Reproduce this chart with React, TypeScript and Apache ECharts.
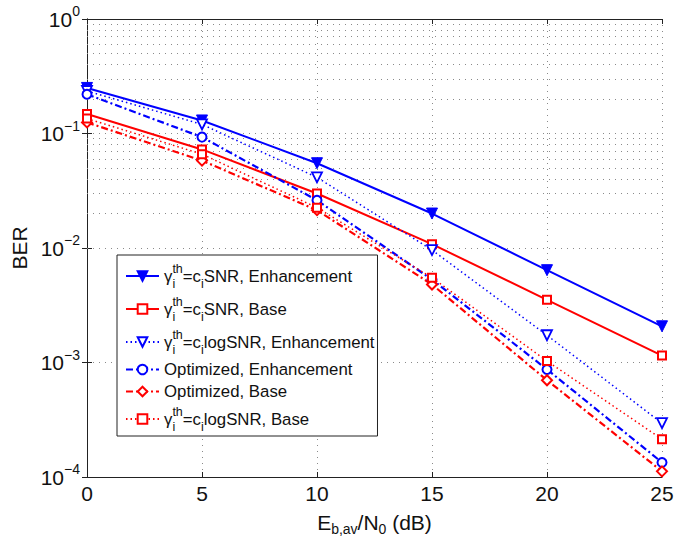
import React, { useEffect, useRef } from "react";
import * as echarts from "echarts";

const xValues = [0, 5, 10, 15, 20, 25];
const snrEnh = [0.25, 0.13, 0.055, 0.02, 0.0064, 0.00207];
const snrBase = [0.148, 0.0726, 0.0299, 0.0108, 0.00353, 0.00115];
const logEnh = [0.235, 0.12, 0.0414, 0.0096, 0.00173, 0.000295];
const optEnh = [0.22, 0.093, 0.0261, 0.0053, 0.00087, 0.000134];
const optBase = [0.125, 0.058, 0.0214, 0.0048, 0.0007, 0.000112];
const logBase = [0.135, 0.066, 0.0225, 0.0055, 0.00103, 0.000214];

const seriesNames = [
  "γ_i^th=c_iSNR, Enhancement",
  "γ_i^th=c_iSNR, Base",
  "γ_i^th=c_ilogSNR, Enhancement",
  "Optimized, Enhancement",
  "Optimized, Base",
  "γ_i^th=c_ilogSNR, Base",
];

const legendRich: Record<string, string> = {
  [seriesNames[0]]: "{g|γ}{si|i}{su|th}{t|=c}{sb|i}{t|SNR, Enhancement}",
  [seriesNames[1]]: "{g|γ}{si|i}{su|th}{t|=c}{sb|i}{t|SNR, Base}",
  [seriesNames[2]]: "{g|γ}{si|i}{su|th}{t|=c}{sb|i}{t|logSNR, Enhancement}",
  [seriesNames[3]]: "{p|Optimized, Enhancement}",
  [seriesNames[4]]: "{p|Optimized, Base}",
  [seriesNames[5]]: "{g|γ}{si|i}{su|th}{t|=c}{sb|i}{t|logSNR, Base}",
};

const minorGrid: number[] = [];
for (let e = -4; e < 0; e++) {
  for (let k = 2; k <= 9; k++) minorGrid.push(k * Math.pow(10, e));
}

const FONT = "'Liberation Sans', Arial, Helvetica, sans-serif";
const BLUE = "#0000ff";
const RED = "#ff0000";
const TXT = "#111";
const LF = 16.8;
const GRID_STYLE = { color: "#8a8a8a", width: 1, type: [1, 5] as number[] };

function pairs(vals: number[]) {
  return xValues.map((x, i) => [x, vals[i]]);
}

export default function App() {
  const ref = useRef<HTMLDivElement>(null);
  useEffect(() => {
    if (!ref.current) return;
    const chart = echarts.init(ref.current, undefined, { renderer: "svg" });
    const axisLine = { show: true, lineStyle: { color: "#222", width: 1 } };
    const tick = { show: true, inside: true, length: 5, lineStyle: { color: "#222" } };
    const option: any = {
      animation: false,
      backgroundColor: "#fff",
      textStyle: { fontFamily: FONT },
      grid: { left: 87, right: 30, top: 19, bottom: 65, containLabel: false },
      legend: {
        orient: "vertical",
        left: 117,
        top: 255,
        backgroundColor: "#fff",
        borderColor: "#222",
        borderWidth: 1,
        borderRadius: 0,
        padding: [7, 3, 3, 8],
        itemGap: 5,
        itemWidth: 33,
        itemHeight: 12,
        data: seriesNames,
        formatter: (name: string) => legendRich[name] || name,
        textStyle: {
          fontFamily: FONT,
          color: TXT,
          fontSize: LF,
          rich: {
            g: { fontSize: LF, lineHeight: 28, fontFamily: FONT, color: TXT },
            t: { fontSize: LF, fontFamily: FONT, color: TXT },
            p: { fontSize: LF, lineHeight: 18, fontFamily: FONT, color: TXT },
            su: { fontSize: 12.5, lineHeight: 18, verticalAlign: "top", fontFamily: FONT, color: TXT },
            si: { fontSize: 12.5, lineHeight: 14, verticalAlign: "bottom", width: 0, fontFamily: FONT, color: TXT },
            sb: { fontSize: 12.5, lineHeight: 14, verticalAlign: "bottom", fontFamily: FONT, color: TXT },
          },
        },
      },
      xAxis: [
        {
          type: "value",
          min: 0,
          max: 25,
          interval: 5,
          name: "{t|E}{s|b,av}{t|/N}{s|0}{t| (dB)}",
          nameLocation: "middle",
          nameGap: 31,
          nameTextStyle: {
            rich: {
              t: { fontSize: 21, fontFamily: FONT, color: TXT, lineHeight: 28, verticalAlign: "middle" },
              s: { fontSize: 14, fontFamily: FONT, color: TXT, lineHeight: 16, verticalAlign: "bottom" },
            },
          },
          axisLine,
          axisTick: tick,
          axisLabel: { fontSize: 21, color: TXT, margin: 6, fontFamily: FONT },
          splitLine: { show: true, lineStyle: GRID_STYLE },
        },
        {
          type: "value",
          position: "top",
          min: 0,
          max: 25,
          interval: 5,
          axisLine,
          axisTick: tick,
          axisLabel: { show: false },
          splitLine: { show: false },
        },
      ],
      yAxis: [
        {
          type: "log",
          logBase: 10,
          min: 1e-4,
          max: 1,
          name: "BER",
          nameLocation: "middle",
          nameGap: 54,
          nameTextStyle: { fontSize: 21, color: TXT, fontFamily: FONT },
          axisLine,
          axisTick: tick,
          axisLabel: {
            margin: 7,
            formatter: (v: number) => {
              const e = Math.round(Math.log10(v));
              const s = e < 0 ? "−" + Math.abs(e) : String(e);
              return "{b|10}{s|" + s + "}";
            },
            rich: {
              b: { fontSize: 21, fontFamily: FONT, color: TXT, lineHeight: 30, verticalAlign: "middle" },
              s: { fontSize: 14, fontFamily: FONT, color: TXT, lineHeight: 12, verticalAlign: "top" },
            },
          },
          splitLine: { show: true, lineStyle: GRID_STYLE },
        },
        {
          type: "log",
          logBase: 10,
          min: 1e-4,
          max: 1,
          position: "right",
          axisLine,
          axisTick: tick,
          axisLabel: { show: false },
          splitLine: { show: false },
        },
      ],
      series: [
        {
          type: "line",
          name: "minor-grid",
          data: [],
          silent: true,
          z: 1,
          markLine: {
            silent: true,
            symbol: ["none", "none"],
            label: { show: false },
            lineStyle: GRID_STYLE,
            emphasis: { disabled: true },
            data: minorGrid.map((v) => ({ yAxis: v })),
          },
        },
        {
          type: "line",
          name: seriesNames[0],
          data: pairs(snrEnh),
          symbol: "triangle",
          symbolRotate: 180,
          symbolSize: 11,
          lineStyle: { color: BLUE, width: 2, type: "solid" },
          itemStyle: { color: BLUE, borderColor: BLUE, borderWidth: 1 },
          z: 5,
        },
        {
          type: "line",
          name: seriesNames[1],
          data: pairs(snrBase),
          symbol: "rect",
          symbolSize: 8,
          lineStyle: { color: RED, width: 2, type: "solid" },
          itemStyle: { color: "#fff", borderColor: RED, borderWidth: 2 },
          z: 5,
        },
        {
          type: "line",
          name: seriesNames[2],
          data: pairs(logEnh),
          symbol: "triangle",
          symbolRotate: 180,
          symbolSize: 10,
          lineStyle: { color: BLUE, width: 1.5, type: [1.5, 3] },
          itemStyle: { color: "#fff", borderColor: BLUE, borderWidth: 1.8 },
          z: 5,
        },
        {
          type: "line",
          name: seriesNames[3],
          data: pairs(optEnh),
          symbol: "circle",
          symbolSize: 9,
          lineStyle: { color: BLUE, width: 2.2, type: [7, 3, 2, 3] },
          itemStyle: { color: "#fff", borderColor: BLUE, borderWidth: 2 },
          z: 5,
        },
        {
          type: "line",
          name: seriesNames[4],
          data: pairs(optBase),
          symbol: "diamond",
          symbolSize: 10,
          lineStyle: { color: RED, width: 2.2, type: [7, 3, 2, 3] },
          itemStyle: { color: "#fff", borderColor: RED, borderWidth: 2 },
          z: 5,
        },
        {
          type: "line",
          name: seriesNames[5],
          data: pairs(logBase),
          symbol: "rect",
          symbolSize: 8,
          lineStyle: { color: RED, width: 1.5, type: [1.5, 3] },
          itemStyle: { color: "#fff", borderColor: RED, borderWidth: 2 },
          z: 5,
        },
      ],
    };
    chart.setOption(option);
    return () => chart.dispose();
  }, []);
  return (
    <div
      ref={ref}
      style={{ position: "fixed", left: 0, top: 0, width: 692, height: 542, background: "#fff" }}
    />
  );
}
